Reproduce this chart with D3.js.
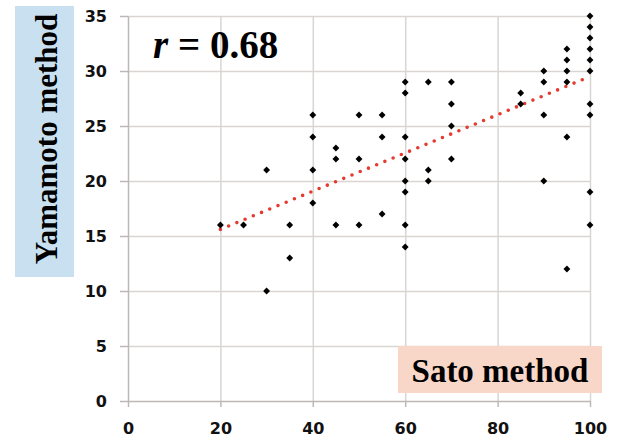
<!DOCTYPE html>
<meta charset="utf-8">
<style>
  body { margin: 0; background: #fff; }
</style>
<svg width="618" height="444"></svg>
<script src="https://d3js.org/d3.v7.min.js"></script>
<script>
// Sato method (x) vs Yamamoto method (y)
const satoX = [20, 25, 30, 30, 35, 35, 40, 40, 40, 40, 45, 45, 45, 50, 50, 50, 55, 55, 55,
  60, 60, 60, 60, 60, 60, 60, 60, 65, 65, 65, 70, 70, 70, 70, 85, 85,
  90, 90, 90, 90, 95, 95, 95, 95, 95, 95,
  100, 100, 100, 100, 100, 100, 100, 100, 100, 100];
const yamamotoY = [16, 16, 21, 10, 16, 13, 26, 24, 21, 18, 23, 22, 16, 26, 22, 16, 26, 24, 17,
  29, 28, 24, 22, 20, 19, 16, 14, 29, 21, 20, 29, 27, 25, 22, 28, 27,
  30, 29, 26, 20, 32, 31, 30, 29, 24, 12,
  35, 34, 33, 32, 31, 30, 27, 26, 19, 16];

// excel linear trendline end points
const trendX = [20, 100];
const trendY = [15.6, 29.5];

const xTicks = [0, 20, 40, 60, 80, 100];
const yTicks = [0, 5, 10, 15, 20, 25, 30, 35];

const margin = ({top: 16, right: 28, bottom: 43, left: 128});
const width = 618, height = 444;

const x = d3.scaleLinear([0, 100], [margin.left, width - margin.right]);
const y = d3.scaleLinear([0, 35], [height - margin.bottom, margin.top]);

const svg = d3.select("svg");
const labelFont = "'DejaVu Sans', 'Liberation Sans', sans-serif";
const serif = "'Liberation Serif', 'DejaVu Serif', serif";

// grid
svg.append("g")
    .attr("transform", `translate(0,${y(0)})`)
    .call(d3.axisBottom(x).tickValues(xTicks.slice(1)).tickSize(-(y(0) - y(35))).tickFormat(""))
    .call(g => g.select(".domain").remove())
    .call(g => g.selectAll("line").attr("stroke", "#d9d5d2").attr("stroke-width", 1.5));

svg.append("g")
    .attr("transform", `translate(${x(0)},0)`)
    .call(d3.axisLeft(y).tickValues(yTicks.slice(1)).tickSize(-(x(100) - x(0))).tickFormat(""))
    .call(g => g.select(".domain").remove())
    .call(g => g.selectAll("line").attr("stroke", "#d9d5d2").attr("stroke-width", 1.5));

// axes
svg.append("g")
    .attr("transform", `translate(0,${y(0)})`)
    .call(d3.axisBottom(x).tickValues(xTicks).tickSizeInner(6).tickSizeOuter(0).tickPadding(16))
    .call(g => g.select(".domain").attr("stroke", "#bdb8b5").attr("stroke-width", 1.5))
    .call(g => g.selectAll("line").attr("stroke", "#bdb8b5").attr("stroke-width", 1.5))
    .call(g => g.selectAll("text")
        .attr("font-family", labelFont)
        .attr("font-weight", "bold")
        .attr("font-size", 16)
        .attr("fill", "#111"));

svg.append("g")
    .attr("transform", `translate(${x(0)},0)`)
    .call(d3.axisLeft(y).tickValues(yTicks).tickSizeInner(8).tickSizeOuter(0).tickPadding(13))
    .call(g => g.select(".domain").attr("stroke", "#bdb8b5").attr("stroke-width", 1.5))
    .call(g => g.selectAll("line").attr("stroke", "#bdb8b5").attr("stroke-width", 1.5))
    .call(g => g.selectAll("text")
        .attr("font-family", labelFont)
        .attr("font-weight", "bold")
        .attr("font-size", 16)
        .attr("fill", "#111"));

// trendline (dotted)
svg.append("path")
    .datum(trendX.map((d, i) => [d, trendY[i]]))
    .attr("fill", "none")
    .attr("stroke", "#e53a2f")
    .attr("stroke-width", 3.6)
    .attr("stroke-linecap", "round")
    .attr("stroke-dasharray", "0 8.9")
    .attr("d", d3.line().x(d => x(d[0])).y(d => y(d[1])));

// diamonds
const diamond = d3.symbol().type(d3.symbolDiamond2).size(30);
svg.append("g")
    .attr("fill", "#000")
  .selectAll("path")
  .data(satoX.map((d, i) => [d, yamamotoY[i]]))
  .join("path")
    .attr("transform", d => `translate(${x(d[0])},${y(d[1])})`)
    .attr("d", diamond);

// r label
svg.append("text")
    .attr("x", 153)
    .attr("y", 58)
    .attr("font-family", serif)
    .attr("font-weight", "bold")
    .attr("font-size", 39)
    .attr("fill", "#000")
    .call(t => t.append("tspan").attr("font-style", "italic").text("r"))
    .call(t => t.append("tspan").text(" = 0.68"));

// x title box
svg.append("rect")
    .attr("x", 398).attr("y", 346)
    .attr("width", 204).attr("height", 47)
    .attr("fill", "#f8d6c8");
svg.append("text")
    .attr("x", 500)
    .attr("y", 382)
    .attr("text-anchor", "middle")
    .attr("font-family", serif)
    .attr("font-weight", "bold")
    .attr("font-size", 33)
    .attr("fill", "#000")
    .text("Sato method");

// y title box
svg.append("rect")
    .attr("x", 15).attr("y", 6)
    .attr("width", 59).attr("height", 271)
    .attr("fill", "#c8e0f0");
svg.append("text")
    .attr("transform", "translate(57,139) rotate(-90)")
    .attr("text-anchor", "middle")
    .attr("font-family", serif)
    .attr("font-weight", "bold")
    .attr("font-size", 31)
    .attr("fill", "#000")
    .text("Yamamoto method");
</script>
